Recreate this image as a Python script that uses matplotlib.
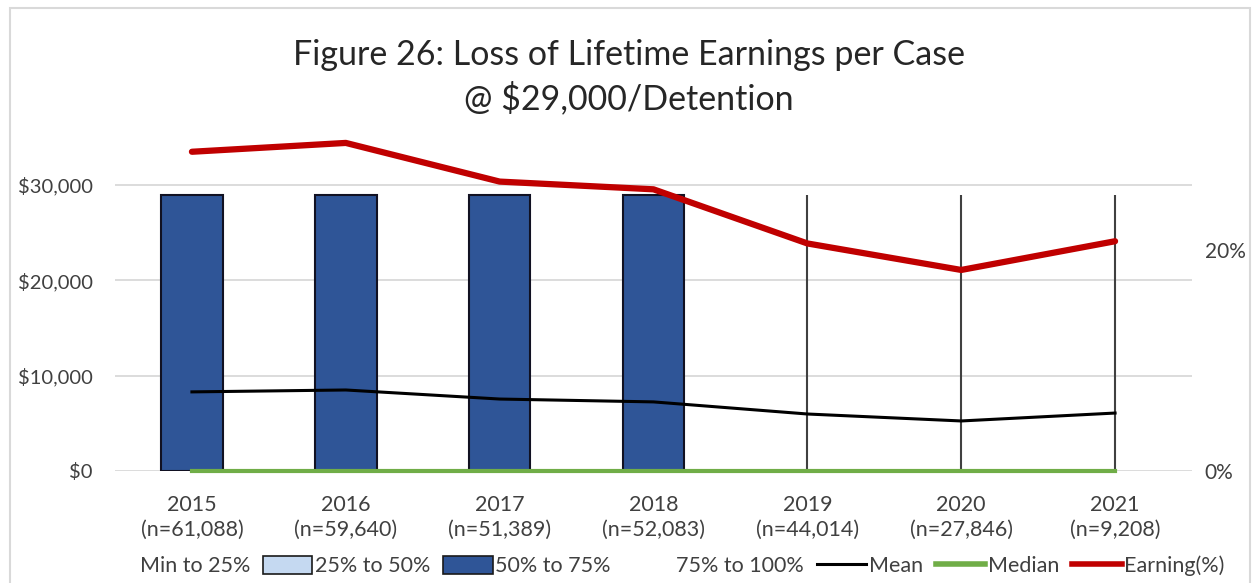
import matplotlib
matplotlib.use("Agg")
import matplotlib.pyplot as plt
from matplotlib.patches import Patch, Rectangle
from matplotlib.lines import Line2D
from matplotlib.ticker import FuncFormatter

plt.rcParams['font.family'] = ['Lato', 'DejaVu Sans']

# data
years = ['2015', '2016', '2017', '2018', '2019', '2020', '2021']
n_cases = ['61,088', '59,640', '51,389', '52,083', '44,014', '27,846', '9,208']
q1 = [0, 0, 0, 0, 0, 0, 0]
median = [0, 0, 0, 0, 0, 0, 0]
q3 = [29000, 29000, 29000, 29000, 0, 0, 0]
q_max = [29000, 29000, 29000, 29000, 29000, 29000, 29000]
mean = [8300, 8500, 7550, 7250, 5980, 5250, 6080]
earning = [0.289, 0.297, 0.262, 0.255, 0.206, 0.182, 0.208]

x = list(range(len(years)))
txt = '#404040'

fig = plt.figure(figsize=(12.58, 5.83), dpi=100)
fig.patches.append(Rectangle((10 / 1258, -0.01), 1240 / 1258, 1 - 8 / 583 + 0.01,
                             transform=fig.transFigure, fill=False,
                             edgecolor='#d9d9d9', linewidth=1.5))

ax = fig.add_axes([115 / 1258, 112 / 583, 1077 / 1258, 333.6 / 583])
ax.set_xlim(-0.5, 6.5)
ax.set_ylim(0, 35000)
ax.set_yticks([0, 10000, 20000, 30000])
ax.yaxis.set_major_formatter(FuncFormatter(lambda v, p: f'${v:,.0f}'))
ax.grid(axis='y', color='#d9d9d9', linewidth=1.3)
ax.set_axisbelow(True)
for s in ax.spines.values():
    s.set_visible(False)
ax.tick_params(axis='y', length=0, labelsize=14.5, colors=txt, pad=16)
ax.tick_params(axis='x', length=0, labelsize=15.5, colors=txt, pad=17)
ax.set_xticks(x)
ax.set_xticklabels([f'{y}\n(n={n})' for y, n in zip(years, n_cases)], linespacing=1.35)

# box parts (only boxes with a height)
bx = [i for i in x if q3[i] > median[i]]
ax.bar(bx, [q3[i] - median[i] for i in bx], bottom=[median[i] for i in bx], width=0.4,
       color='#2f5597', edgecolor='#111122', linewidth=1.5, zorder=2)
ax.vlines(x, q3, q_max, color='#404040', linewidth=1.5, zorder=2)
ax.plot(x, median, color='#70ad47', linewidth=3, zorder=3, clip_on=False)
ax.plot(x, mean, color='black', linewidth=2.2, zorder=4)

ax2 = ax.twinx()
ax2.set_ylim(0, 0.302)
ax2.set_yticks([0, 0.2])
ax2.yaxis.set_major_formatter(FuncFormatter(lambda v, p: f'{v:.0%}'))
for s in ax2.spines.values():
    s.set_visible(False)
ax2.tick_params(length=0, labelsize=15, colors=txt, pad=9)
ax2.plot(x, earning, color='#c00000', linewidth=4.5, solid_capstyle='round')

fig.text(0.5, 1 - 77 / 583, 'Figure 26: Loss of Lifetime Earnings per Case\n@ $29,000/Detention',
         ha='center', va='center', fontsize=24.5, color='#262626', linespacing=1.4)

handles = [
    Patch(facecolor='none', edgecolor='none'),
    Patch(facecolor='#c5d9f1', edgecolor='#1a1a1a', linewidth=1.2),
    Patch(facecolor='#2f5597', edgecolor='#1a1a1a', linewidth=1.2),
    Patch(facecolor='none', edgecolor='none'),
    Line2D([], [], color='black', linewidth=2.2),
    Line2D([], [], color='#70ad47', linewidth=4),
    Line2D([], [], color='#c00000', linewidth=4),
]
labels = ['Min to 25%', '25% to 50%', '50% to 75%', '75% to 100%', 'Mean', 'Median', 'Earning(%)']
fig.legend(handles, labels, loc='center', bbox_to_anchor=(0.5 + 27 / 1258, 17 / 583), ncol=7,
           frameon=False, fontsize=15.5, labelcolor=txt, handlelength=2.3,
           handletextpad=0.12, columnspacing=0.6, handleheight=0.9)

fig.savefig('out.png', dpi=100)
